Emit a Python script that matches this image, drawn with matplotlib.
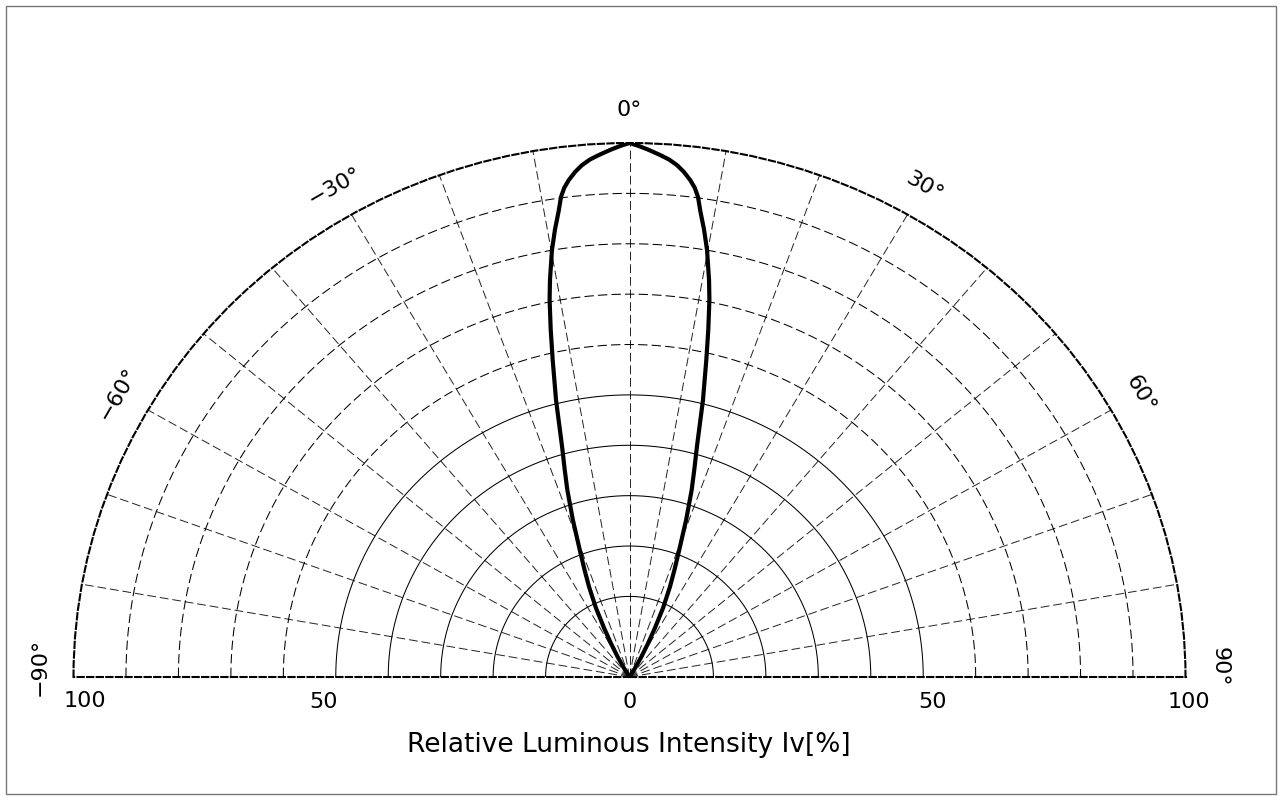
import numpy as np
import matplotlib
matplotlib.use("Agg")
import matplotlib.pyplot as plt
import matplotlib.transforms as mtransforms
from matplotlib.patches import Rectangle

# ---------------- data ----------------
half_angle = [0, 1, 2, 3.2, 4.2, 5.1, 5.9, 6.7, 7.3, 7.8, 8.3, 9.1, 9.9, 10.9,
              11.5, 12.3, 13.1, 14.3, 15.7, 16.7, 17.7, 19.1, 20.8, 22.0, 23.3,
              25.0, 26.5, 28.0, 29.5, 31.0, 33.0, 90]
half_intensity = [100, 99.4, 98.7, 97.8, 97.0, 96.0, 94.8, 93.3, 91.9, 90.2, 87.5,
                  83.9, 80.0, 74.2, 70.4, 64.5, 58.6, 50.7, 41.5, 37.0, 33.0, 27.0,
                  20.3, 16.8, 13.5, 9.5, 6.8, 4.6, 2.8, 1.2, 0, 0]
angle_deg = [-a for a in half_angle[::-1]] + half_angle[1:]
intensity = half_intensity[::-1] + half_intensity[1:]

ring_values = [10, 20, 30, 40, 50, 60, 70, 80, 90]
spoke_angles = list(range(-80, 90, 10))
angle_label_values = [-90, -60, -30, 0, 30, 60, 90]
angle_label_texts = ["\u221290\u00b0", "\u221260\u00b0", "\u221230\u00b0", "0\u00b0",
                     "30\u00b0", "60\u00b0", "90\u00b0"]
radial_label_values = [100, 50, 0, 50, 100]
radial_label_sides = [-90, -90, 0, 90, 90]
radial_label_texts = ["100", "50", "0", "50", "100"]
radial_label_dx = [11.5, -11.8, 0, 9.8, 3]
xlabel_text = "Relative Luminous Intensity Iv[%]"

# ---------------- radial scale (offset rings) ----------------
C = 6.0


def fwd(v):
    v = np.asarray(v, dtype=float)
    return np.where(v < 10, v * (10 + C) / 10.0, v + C)


def inv(u):
    u = np.asarray(u, dtype=float)
    return np.where(u < 10 + C, u * 10.0 / (10 + C), u - C)


W, H = 1283, 796
fig = plt.figure(figsize=(W / 100, H / 100), dpi=100)
fig.patch.set_facecolor("white")

cx, cy = 629.5, 677.0
rx, ry = 556.0, 534.0
# a half polar wedge is padded to a square box: the centre sits at 1/4 height
ax_h = 2 * ry
ax_bottom = cy + ry / 2.0
ax = fig.add_axes([(cx - rx) / W, (H - ax_bottom) / H, 2 * rx / W, ax_h / H],
                  projection="polar")
ax.set_theta_zero_location("N")
ax.set_theta_direction(-1)
ax.set_thetamin(-90)
ax.set_thetamax(90)
ax.set_rscale("function", functions=(fwd, inv))
ax.set_rlim(0, 100)
ax.set_aspect("auto")
ax.patch.set_visible(False)

ax.set_yticks([])
ax.set_yticklabels([])
ax.set_xticks(np.deg2rad(spoke_angles))
ax.set_xticklabels([])
ax.tick_params(axis="x", length=0)
ax.xaxis.grid(True, linestyle=(0, (9, 4)), color="#222222", linewidth=0.7)
ax.yaxis.grid(False)

arc = np.deg2rad(np.linspace(-90, 90, 721))
for v in ring_values:
    ls = "-" if v <= 50 else (0, (9, 4))
    ax.plot(arc, np.full_like(arc, v), color="black", linewidth=0.75,
            linestyle=ls, zorder=2)

for name in ("polar", "start", "end"):
    sp = ax.spines[name]
    sp.set_linestyle((0, (3.0, 1.6)))
    sp.set_linewidth(1.5)
    sp.set_edgecolor("black")
ax.spines["inner"].set_visible(False)

ax.plot(np.deg2rad(angle_deg), intensity, color="black", linewidth=3.0,
        solid_joinstyle="round", solid_capstyle="round", zorder=5)

font = "DejaVu Sans"
R_lab = 106.5
for a, t in zip(angle_label_values, angle_label_texts):
    aa = a
    if abs(a) == 90:
        aa = 89 * np.sign(a)
    ax.text(np.deg2rad(aa), R_lab, t, rotation=-a, rotation_mode="anchor",
            ha="center", va="center", fontsize=16, family=font, clip_on=False)

for v, side, t, dx in zip(radial_label_values, radial_label_sides,
                          radial_label_texts, radial_label_dx):
    off = mtransforms.offset_copy(ax.transData, fig=fig, x=dx, y=-24.5,
                                  units="dots")
    ax.text(np.deg2rad(side), v, t, transform=off, ha="center", va="center",
            fontsize=16, family=font, clip_on=False)

fig.text(629 / W, 1 - 745 / H, xlabel_text, ha="center", va="center",
         fontsize=19, family=font)

fig.patches.append(Rectangle((5.5 / W, 2.5 / H), 1270 / W, 788 / H,
                             transform=fig.transFigure, fill=False,
                             edgecolor="#777777", linewidth=1.0))

fig.savefig("out.png", dpi=100)
